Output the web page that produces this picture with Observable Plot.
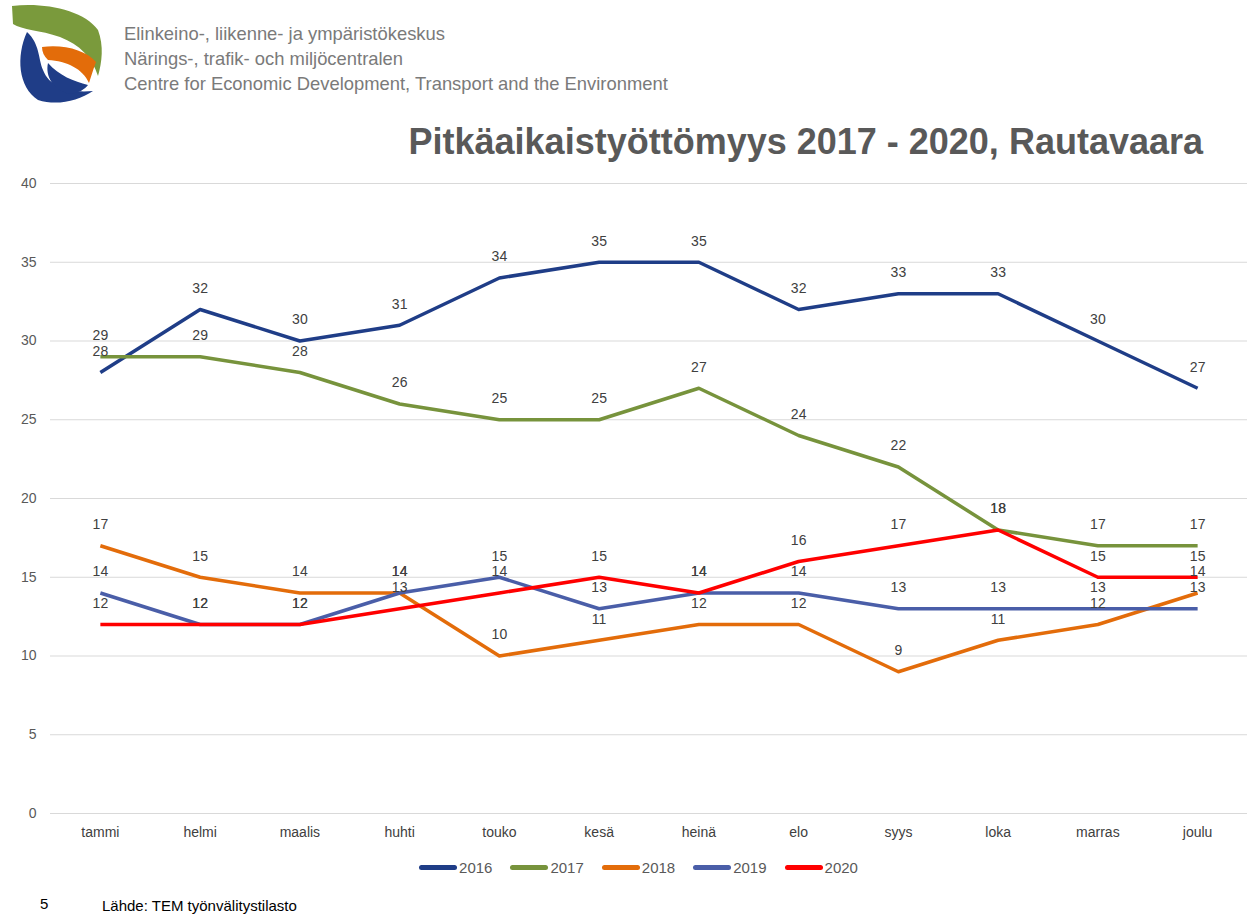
<!DOCTYPE html>
<html>
<head>
<meta charset="utf-8">
<script src="https://cdn.jsdelivr.net/npm/d3@7"></script>
<script src="https://cdn.jsdelivr.net/npm/@observablehq/plot@0.6"></script>
<style>
  html, body { margin: 0; padding: 0; background: #fff; }
  body { width: 1247px; height: 914px; position: relative; overflow: hidden; font-family: "Liberation Sans", Arial, sans-serif; }
  #logo { position: absolute; left: 0; top: 0; }
  .hdr { position: absolute; left: 124px; font-size: 18.4px; color: #7a7a7a; }
  #title { position: absolute; right: 44px; top: 121px; font-size: 36px; font-weight: bold; color: #595959; white-space: nowrap; }
  #chart { position: absolute; left: 0; top: 170px; }
  #legend { position: absolute; top: 859px; left: 0; width: 1247px; display: flex; justify-content: center; padding-left: 30px; box-sizing: border-box; font-size: 15px; color: #595959; }
  .li { display: flex; align-items: center; margin: 0 9px; }
  .sw { width: 38px; height: 5px; border-radius: 2.5px; margin-right: 2px; }
  #pg { position: absolute; left: 40px; top: 895px; font-size: 15px; color: #000; }
  #src { position: absolute; left: 102px; top: 897px; font-size: 15px; color: #000; }
</style>
</head>
<body>
<svg id="logo" width="120" height="110" viewBox="0 0 120 110">
  <path d="M12,6 C44,2 84,10 98,30 C104,46 102,62 98,76 C92,57 80,45 60,37 C40,30 22,30 13,24 Z" fill="#7a9a3c"/>
  <path d="M27,32 C16,56 18,87 38,100 C57,106 78,101 93,91 C70,93 50,88 43,70 C38,58 40,44 27,32 Z" fill="#1f3d87"/>
  <path d="M42,47 C63,44 86,50 96,62 C93,70 91,77 89,83 C83,69 67,61 48,60 C44,56 42,52 42,47 Z" fill="#e36c0a"/>
  <path d="M48,63 C45,76 53,90 70,94 C79,93 85,89 88,85 C74,81 59,76 48,63 Z" fill="#1f3d87"/>
</svg>
<div class="hdr" style="top:23px">Elinkeino-, liikenne- ja ympäristökeskus</div>
<div class="hdr" style="top:48px">Närings-, trafik- och miljöcentralen</div>
<div class="hdr" style="top:73px">Centre for Economic Development, Transport and the Environment</div>
<div id="title">Pitkäaikaistyöttömyys 2017 - 2020, Rautavaara</div>
<div id="chart"></div>
<div id="legend"></div>
<div id="pg">5</div>
<div id="src">Lähde: TEM työnvälitystilasto</div>
<script>
const months = ["tammi","helmi","maalis","huhti","touko","kesä","heinä","elo","syys","loka","marras","joulu"];
const years = ["2016","2017","2018","2019","2020"];
const colors = ["#1f3d87","#77933c","#e36c0a","#4a5ea8","#ff0000"];
const v2016 = [28,32,30,31,34,35,35,32,33,33,30,27];
const v2017 = [29,29,28,26,25,25,27,24,22,18,17,17];
const v2018 = [17,15,14,14,10,11,12,12,9,11,12,14];
const v2019 = [14,12,12,14,15,13,14,14,13,13,13,13];
const v2020 = [12,12,12,13,14,15,14,16,17,18,15,15];
const yTicks = [0,5,10,15,20,25,30,35,40];

const series = [v2016, v2017, v2018, v2019, v2020];
const data = [];
series.forEach((vals, i) => vals.forEach((v, j) => data.push({year: years[i], month: months[j], value: v})));

const chart = Plot.plot({
  width: 1247,
  height: 680,
  marginLeft: 50,
  marginRight: 0,
  marginTop: 13,
  marginBottom: 37,
  style: {fontFamily: "Liberation Sans, Arial, sans-serif", fontSize: "14px", color: "#595959", background: "transparent"},
  x: {type: "point", domain: months, padding: 0.5, round: false, label: null},
  y: {domain: [0, 40], label: null},
  color: {domain: years, range: colors},
  marks: [
    Plot.ruleY(yTicks, {stroke: "#d9d9d9", strokeWidth: 1}),
    Plot.axisY({ticks: yTicks, tickSize: 0, tickPadding: 14, fill: "#595959", fontSize: 14, label: null}),
    Plot.axisX({tickSize: 0, tickPadding: 14, fill: "#404040", fontSize: 14, label: null}),
    Plot.line(data, {x: "month", y: "value", z: "year", stroke: "year", strokeWidth: 3.5, strokeLinejoin: "round", strokeLinecap: "butt"}),
    Plot.text(data, {x: "month", y: "value", text: d => String(d.value), dy: -21, fill: "#404040", fontSize: 14})
  ]
});
document.getElementById("chart").appendChild(chart);

const legend = document.getElementById("legend");
years.forEach((y, i) => {
  const li = document.createElement("div");
  li.className = "li";
  li.innerHTML = `<div class="sw" style="background:${colors[i]}"></div><span>${y}</span>`;
  legend.appendChild(li);
});
</script>
</body>
</html>
